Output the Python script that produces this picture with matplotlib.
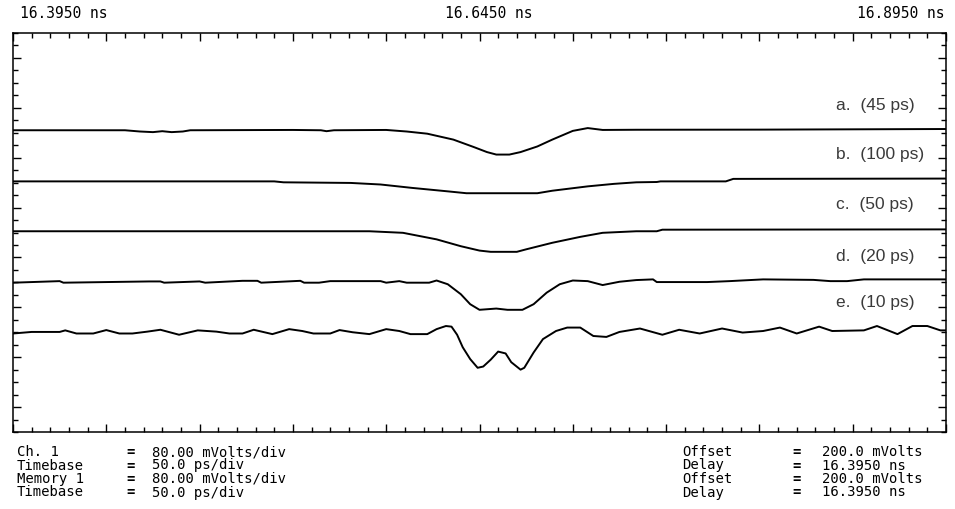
import matplotlib
matplotlib.use("Agg")
import matplotlib.pyplot as plt
from matplotlib.ticker import MultipleLocator

# ---- data (time in ps after delay, amplitude in mV) ----
delay_ns = 16.395
span_ps = 500
tick_labels = ["16.3950 ns", "16.6450 ns", "16.8950 ns"]

a_t = [0, 60, 68, 75, 80, 85, 91, 95, 150, 165, 168, 172, 200, 211, 222, 236, 247, 254, 259, 266,
       272, 281, 289, 300, 308, 316, 334, 400, 500]
a_v = [364, 364, 362, 361, 362.5, 361, 362, 364, 364.5, 364, 362.5, 364, 364.5, 362, 358.5, 349, 337,
       329, 325, 325, 329, 338, 349, 363, 367.5, 364.5, 364.8, 365, 366]

b_t = [0, 140, 145, 181, 197, 214, 233, 243, 281, 289, 308, 322, 334, 345, 347, 382, 386, 500]
b_v = [282, 282, 280.5, 279.5, 277, 271.5, 266, 263, 263, 267, 274, 278, 280.5, 281, 282, 282, 286, 286.5]

c_t = [0, 191, 209, 227, 240, 250, 256, 270, 275, 289, 304, 316, 334, 345, 348, 500]
c_v = [202, 202, 199.5, 189, 178, 171, 169, 169, 173, 183.5, 193, 199.5, 202, 202, 204.5, 205]

d_t = [0, 25, 27, 73, 79, 81, 100, 103, 123, 131, 133, 154, 156, 164, 170, 197, 200, 207, 211, 223,
       227, 233, 240, 245, 250, 259, 265, 273, 279, 286, 293, 300, 308, 316, 325, 334, 343, 345, 372,
       384, 402, 429, 438, 447, 456, 500]
d_v = [119.5, 122, 119.5, 121.5, 121.5, 119.5, 121.5, 119.5, 122.5, 122.5, 119.5, 122.5, 119.5, 119.5,
       122, 122, 119.5, 122, 119.5, 119.5, 123, 117, 101, 85, 76, 78, 76, 76, 85, 103.5, 117, 123, 122,
       115.7, 121, 123.7, 124.8, 120.5, 120.5, 122, 124.8, 124, 122, 122, 124.8, 124.8]

e_t = [0, 10, 20, 25, 28, 34, 43, 50, 57, 64, 72, 79, 89, 99, 109, 116, 123, 129, 139, 148, 155, 161,
       170, 175, 182, 191, 200, 207, 213, 222, 227, 232, 235, 238, 241, 245, 249, 252, 256, 260, 264,
       267, 272, 274, 279, 284, 291, 297, 304, 311, 318, 325, 336, 348, 357, 368, 380, 391, 402, 411,
       420, 432, 439, 456, 463, 474, 482, 490, 497, 500]
e_v = [38, 40.5, 40.5, 40.5, 43, 38, 38, 43.5, 38, 38, 41, 44, 36, 43, 41, 38, 38, 44, 37, 45, 42, 38,
       38, 43.5, 40, 37, 45, 42, 37, 37, 45, 50, 49, 36, 16, -3, -17, -15, -4, 9, 6, -8, -20,
       -17, 7.5, 29, 42, 47.5, 47.5, 34, 32.5, 40.5, 46, 36, 44, 38, 46, 39.5, 42, 47.5, 38, 49, 42,
       43, 50, 37, 50, 50, 43, 43]

traces = [(a_t, a_v), (b_t, b_v), (c_t, c_v), (d_t, d_v), (e_t, e_v)]
trace_labels = ["a.  (45 ps)", "b.  (100 ps)", "c.  (50 ps)", "d.  (20 ps)", "e.  (10 ps)"]
label_levels = [403, 325, 245, 162, 88]

offset_mv = 200
mv_per_div = 80
ps_per_div = 50

left_info = [("Ch. 1", "80.00 mVolts/div"), ("Timebase", "50.0 ps/div"),
             ("Memory 1", "80.00 mVolts/div"), ("Timebase", "50.0 ps/div")]
right_info = [("Offset", "200.0 mVolts"), ("Delay", "16.3950 ns"),
              ("Offset", "200.0 mVolts"), ("Delay", "16.3950 ns")]

# ---- figure ----
fig = plt.figure(figsize=(9.55, 5.09), dpi=100)
ax = fig.add_axes([13 / 955, 1 - 432 / 509, 933 / 955, 399 / 509])

for t, v in traces:
    ax.plot(t, v, color="black", lw=1.4, solid_joinstyle="round")

ax.set_xlim(0, span_ps)
ax.set_ylim(offset_mv - 4 * mv_per_div, offset_mv + 4 * mv_per_div)
ax.xaxis.set_major_locator(MultipleLocator(ps_per_div))
ax.xaxis.set_minor_locator(MultipleLocator(ps_per_div / 5))
ax.yaxis.set_major_locator(MultipleLocator(mv_per_div))
ax.yaxis.set_minor_locator(MultipleLocator(mv_per_div / 4))
ax.tick_params(which="both", direction="in", top=True, bottom=True, left=True, right=True,
               labelbottom=False, labelleft=False, color="black")
ax.tick_params(which="major", length=6, width=1.0)
ax.tick_params(which="minor", length=3.5, width=1.0)
for s in ax.spines.values():
    s.set_linewidth(1.1)

for lab, lv in zip(trace_labels, label_levels):
    ax.text(441, lv, lab, fontsize=12.5, family="Liberation Sans", color="#3a3a3a",
            ha="left", va="center")

mono = "DejaVu Sans Mono"
fs = 10
fig.text(20 / 955, 1 - 14 / 509, tick_labels[0], family=mono, fontsize=fs + 0.5, ha="left", va="center")
fig.text(489 / 955, 1 - 14 / 509, tick_labels[1], family=mono, fontsize=fs + 0.5, ha="center", va="center")
fig.text(944 / 955, 1 - 14 / 509, tick_labels[2], family=mono, fontsize=fs + 0.5, ha="right", va="center")

rows_y = [452, 465.5, 479, 492.5]
for (lab, val), y in zip(left_info, rows_y):
    fy = 1 - y / 509
    fig.text(17 / 955, fy, lab, family=mono, fontsize=fs, ha="left", va="center")
    fig.text(131 / 955, fy, "=", family=mono, fontsize=fs, ha="center", va="center", weight="bold")
    fig.text(152 / 955, fy, val, family=mono, fontsize=fs, ha="left", va="center")
for (lab, val), y in zip(right_info, rows_y):
    fy = 1 - y / 509
    fig.text(682 / 955, fy, lab, family=mono, fontsize=fs, ha="left", va="center")
    fig.text(797 / 955, fy, "=", family=mono, fontsize=fs, ha="center", va="center", weight="bold")
    fig.text(822 / 955, fy, val, family=mono, fontsize=fs, ha="left", va="center")

fig.savefig("out.png", dpi=100)
